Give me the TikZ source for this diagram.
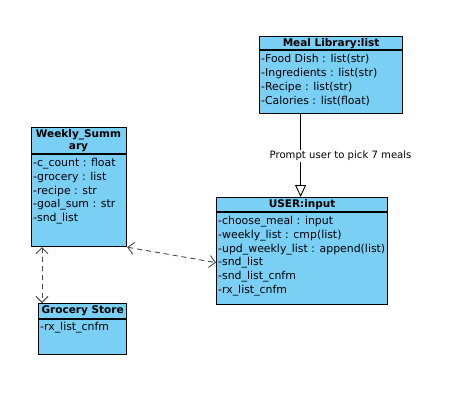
\documentclass[tikz,border=0pt]{standalone}
\usepackage{fontspec}
\setmainfont{DejaVu Sans}
\usetikzlibrary{arrows.meta}
\definecolor{classfill}{RGB}{122,207,245}
\definecolor{linkgray}{RGB}{72,72,72}

\tikzset{
  classbox/.style={draw=black, line width=1.2pt, fill=classfill, inner sep=0pt, anchor=north west},
  classtitle/.style={font=\fontsize{10.5}{12}\selectfont\bfseries, inner sep=0pt},
  attr/.style={font=\fontsize{10.9}{12}\selectfont, inner sep=0pt, anchor=west},
  lbl/.style={font=\fontsize{10.1}{12}\selectfont, fill=white, inner sep=1pt, anchor=west},
  dep/.style={draw=linkgray, line width=0.9pt, dash pattern=on 5pt off 4pt,
    {Straight Barb[length=6pt,width=12pt]}-{Straight Barb[length=6pt,width=12pt]}},
  gen/.style={draw=black, line width=0.9pt, -{Triangle[length=12pt,width=11pt,fill=white]}},
}

\begin{document}
\begin{tikzpicture}[x=1pt, y=-1pt]
  \useasboundingbox (0,0) rectangle (476,410);

  % Meal Library
  \node[classbox, minimum width=143pt, minimum height=77pt] (meal) at (259,36) {};
  \draw[line width=1.2pt] ([yshift=-14pt]meal.north west) -- ([yshift=-14pt]meal.north east);
  \node[classtitle] (mealT) at ([yshift=-7.5pt]meal.north) {Meal Library:list};
  \node[attr] (meal1) at (261,59.3) {-Food Dish : list(str)};
  \node[attr] (meal2) at (261,73.2) {-Ingredients : list(str)};
  \node[attr] (meal3) at (261,87.1) {-Recipe : list(str)};
  \node[attr] (meal4) at (261,101) {-Calories : list(float)};

  % Weekly summary
  \node[classbox, minimum width=95pt, minimum height=119pt] (weekly) at (31,127) {};
  \draw[line width=1.2pt] ([yshift=-27pt]weekly.north west) -- ([yshift=-27pt]weekly.north east);
  \node[classtitle] (weeklyT1) at (78.5,135) {Weekly\_Summ};
  \node[classtitle] (weeklyT2) at (78.5,147.5) {ary};
  \node[attr] (wk1) at (33,163.3) {-c\_count : float};
  \node[attr] (wk2) at (33,177.2) {-grocery : list};
  \node[attr] (wk3) at (33,191.1) {-recipe : str};
  \node[attr] (wk4) at (33,205) {-goal\_sum : str};
  \node[attr] (wk5) at (33,218.9) {-snd\_list};

  % User input
  \node[classbox, minimum width=171pt, minimum height=107pt] (user) at (216,197) {};
  \draw[line width=1.2pt] ([yshift=-15pt]user.north west) -- ([yshift=-15pt]user.north east);
  \node[classtitle] (userT) at ([yshift=-7.8pt]user.north) {USER:input};
  \node[attr] (us1) at (218,221.7) {-choose\_meal : input};
  \node[attr] (us2) at (218,235.5) {-weekly\_list : cmp(list)};
  \node[attr] (us3) at (218,249.3) {-upd\_weekly\_list : append(list)};
  \node[attr] (us4) at (218,263.1) {-snd\_list};
  \node[attr] (us5) at (218,276.9) {-snd\_list\_cnfm};
  \node[attr] (us6) at (218,290.7) {-rx\_list\_cnfm};

  % Grocery store
  \node[classbox, minimum width=88pt, minimum height=51pt] (grocery) at (38,303) {};
  \draw[line width=1.2pt] ([yshift=-16pt]grocery.north west) -- ([yshift=-16pt]grocery.north east);
  \node[classtitle] (groceryT) at ([yshift=-8pt]grocery.north) {Grocery Store};
  \node[attr] (gr1) at (40,327.5) {-rx\_list\_cnfm};

  % Connectors
  \draw[gen] ([xshift=-1.5pt]meal.south -| user.north) -- ([xshift=-1.5pt]user.north);
  \node[lbl] (prompt) at (268.5,156) {Prompt user to pick 7 meals};
  \draw[dep] (weekly.south east) -- ([yshift=-11.5pt]user.west);
  \draw[dep] ([xshift=11pt]weekly.south west) -- ([xshift=4pt]grocery.north west);
\end{tikzpicture}
\end{document}
